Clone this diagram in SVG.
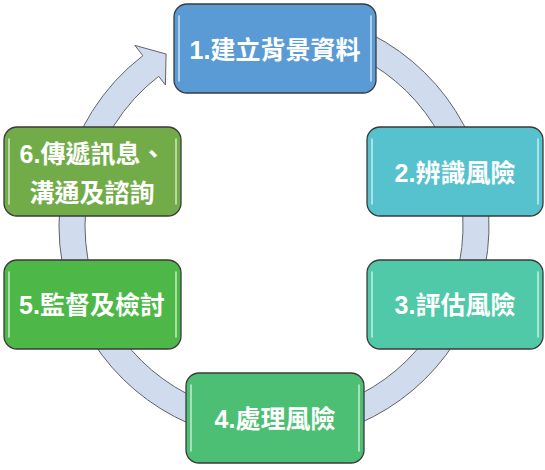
<svg xmlns="http://www.w3.org/2000/svg" width="545" height="470" viewBox="0 0 545 470">
<style>
.ring{fill:#D0DBEE;stroke:#5f6368;stroke-width:1;}
.box{stroke:#3a3a3a;stroke-width:1.3;}
.hl{stroke:#ffffff;stroke-opacity:0.65;stroke-width:1.6;stroke-linecap:round;fill:none;}
.lbl{font-family:"Liberation Sans","Noto Sans CJK TC",sans-serif;font-weight:bold;font-size:25px;fill:#ffffff;text-anchor:middle;}
</style>
<rect width="545" height="470" fill="#ffffff"/>
<g id="connectors">
<path class="ring" d="M292.74,11.82 A215,215 0 0 1 481.67,170.35 L456.56,177.08 A189,189 0 0 0 290.47,37.72 Z"/>
<path class="ring" d="M484.30,181.30 A215,215 0 0 1 468.86,316.86 L445.29,305.87 A189,189 0 0 0 458.87,186.70 Z"/>
<path class="ring" d="M476.03,299.53 A215,215 0 0 1 281.50,440.87 L280.60,414.88 A189,189 0 0 0 451.60,290.64 Z"/>
<path class="ring" d="M266.50,440.87 A215,215 0 0 1 71.97,299.53 L96.40,290.64 A189,189 0 0 0 267.40,414.88 Z"/>
<path class="ring" d="M79.14,316.86 A215,215 0 0 1 66.33,170.35 L91.44,177.08 A189,189 0 0 0 102.71,305.87 Z"/>
<path class="ring" d="M63.70,181.30 A215,215 0 0 1 142.8,55.7 L134.9,45.4 L166.1,54.0 L165.4,85.0 L158.7,76.3 A189,189 0 0 0 89.13,186.70 Z"/>
</g>
<g id="node1">
<rect class="box" x="174" y="4" width="202" height="89" rx="13" fill="#5B9BD5"/>
<line class="hl" x1="179" y1="16" x2="179" y2="81"/><line class="hl" x1="371" y1="16" x2="371" y2="81"/>
<text class="lbl" x="275" y="58.5">1.建立背景資料</text>
</g>
<g id="node2">
<rect class="box" x="367" y="127" width="176" height="89" rx="13" fill="#56C2CE"/>
<line class="hl" x1="372" y1="139" x2="372" y2="204"/><line class="hl" x1="538" y1="139" x2="538" y2="204"/>
<text class="lbl" x="455" y="182">2.辨識風險</text>
</g>
<g id="node3">
<rect class="box" x="367" y="260" width="176" height="89" rx="13" fill="#50C9A8"/>
<line class="hl" x1="372" y1="272" x2="372" y2="337"/><line class="hl" x1="538" y1="272" x2="538" y2="337"/>
<text class="lbl" x="455" y="313.5">3.評估風險</text>
</g>
<g id="node4">
<rect class="box" x="186" y="373" width="178" height="90" rx="13" fill="#4DBF74"/>
<line class="hl" x1="191" y1="385" x2="191" y2="451"/><line class="hl" x1="359" y1="385" x2="359" y2="451"/>
<text class="lbl" x="275" y="427.5">4.處理風險</text>
</g>
<g id="node5">
<rect class="box" x="4" y="260" width="177" height="89" rx="13" fill="#4DB848"/>
<line class="hl" x1="9" y1="272" x2="9" y2="337"/><line class="hl" x1="176" y1="272" x2="176" y2="337"/>
<text class="lbl" x="92" y="314">5.監督及檢討</text>
</g>
<g id="node6">
<rect class="box" x="4" y="127" width="177" height="89" rx="13" fill="#71AC48"/>
<line class="hl" x1="9" y1="139" x2="9" y2="204"/><line class="hl" x1="176" y1="139" x2="176" y2="204"/>
<text class="lbl" x="92.5" y="162.5">6.傳遞訊息、</text>
<text class="lbl" x="92" y="201.5">溝通及諮詢</text>
</g>
</svg>
